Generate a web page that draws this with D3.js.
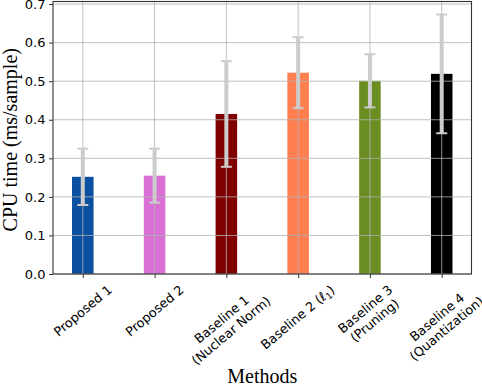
<!DOCTYPE html>
<html>
<head>
<meta charset="utf-8">
<script src="https://cdn.jsdelivr.net/npm/d3@7"></script>
<style>
  html, body { margin: 0; padding: 0; background: #fff; }
  svg { display: block; }
</style>
</head>
<body>
<svg id="chart" width="482" height="386"></svg>
<script>
// ---- data ----
const categories = ["Proposed 1", "Proposed 2", "Baseline 1\n(Nuclear Norm)", "Baseline 2 (ℓ1)", "Baseline 3\n(Pruning)", "Baseline 4\n(Quantization)"];
const means = [0.252, 0.255, 0.415, 0.522, 0.501, 0.519];
const errors = [0.073, 0.070, 0.137, 0.092, 0.069, 0.154];
const colors = ["#0b4fa0", "#da70d6", "#800000", "#ff7f50", "#6b8e23", "#000000"];
const yTicks = [0.0, 0.1, 0.2, 0.3, 0.4, 0.5, 0.6, 0.7];

// ---- layout ----
const svg = d3.select("#chart");
const L = 53, R = 471.5, T = 1.5, B = 274;
const n = categories.length;
const barW = 0.3;
const pad = (n - 1 + barW) * 0.05;
const x = d3.scaleLinear().domain([-barW / 2 - pad, n - 1 + barW / 2 + pad]).range([L, R]);
const yMax = d3.max(means.map((m, i) => m + errors[i])) * 1.05;
const y = d3.scaleLinear().domain([0, yMax]).range([B, T]);

// bars
svg.append("g").selectAll("rect").data(means).join("rect")
  .attr("x", (d, i) => x(i - barW / 2))
  .attr("width", (d, i) => x(i + barW / 2) - x(i - barW / 2))
  .attr("y", d => y(d))
  .attr("height", d => B - y(d))
  .attr("fill", (d, i) => colors[i]);

// grid (drawn above bars)
const grid = svg.append("g").attr("stroke", "#b0b0b0").attr("stroke-opacity", 0.8).attr("stroke-width", 1);
yTicks.forEach(t => {
  grid.append("line").attr("x1", L).attr("x2", R).attr("y1", y(t)).attr("y2", y(t));
});
d3.range(n).forEach(i => {
  grid.append("line").attr("x1", x(i)).attr("x2", x(i)).attr("y1", T).attr("y2", B);
});

// error bars
const eg = svg.append("g").attr("stroke", "#cccccc");
means.forEach((m, i) => {
  const cx = x(i);
  eg.append("line").attr("x1", cx).attr("x2", cx)
    .attr("y1", y(m - errors[i])).attr("y2", y(m + errors[i])).attr("stroke-width", 4);
  [m - errors[i], m + errors[i]].forEach(v => {
    eg.append("line").attr("x1", cx - 5.5).attr("x2", cx + 5.5)
      .attr("y1", y(v)).attr("y2", y(v)).attr("stroke-width", 2);
  });
});

// spines
svg.append("rect").attr("x", L).attr("y", T).attr("width", R - L).attr("height", B - T)
  .attr("fill", "none").attr("stroke", "#333").attr("stroke-width", 1.1);

// y axis
const yAxis = d3.axisLeft(y).tickValues(yTicks).tickFormat(d3.format(".1f")).tickSize(4).tickPadding(3.5);
const ya = svg.append("g").attr("transform", `translate(${L},0)`).call(yAxis);
ya.select(".domain").remove();
ya.selectAll("line").attr("stroke", "#333");
ya.selectAll("text").attr("font-family", "DejaVu Sans").attr("font-size", 13).attr("fill", "#000");

// x axis ticks
const xAxis = d3.axisBottom(x).tickValues(d3.range(n)).tickFormat("").tickSize(4);
const xa = svg.append("g").attr("transform", `translate(0,${B})`).call(xAxis);
xa.select(".domain").remove();
xa.selectAll("line").attr("stroke", "#333");

// x tick labels rotated 40deg, bbox centered at tick
const ang = 40 * Math.PI / 180;
categories.forEach((c, i) => {
  const g = svg.append("g");
  const t = g.append("text").attr("font-family", "DejaVu Sans").attr("font-size", 12.8)
    .attr("text-anchor", "middle").attr("fill", "#000");
  const lines = c.split("\n");
  lines.forEach((ln, k) => {
    const ts = t.append("tspan").attr("x", 0).attr("dy", k === 0 ? 0 : "1.15em");
    const m = ln.match(/^(.*)\(ℓ1\)$/);
    if (m) {
      ts.text(m[1] + "(");
      t.append("tspan").attr("font-style", "italic").text("ℓ");
      t.append("tspan").attr("font-size", 9).attr("dy", 2.5).text("1");
      t.append("tspan").attr("dy", -2.5).text(")");
    } else {
      ts.text(ln);
    }
  });
  const bb = t.node().getBBox();
  const cx = bb.x + bb.width / 2, cy = bb.y + bb.height / 2;
  const H = bb.width * Math.sin(ang) + bb.height * Math.cos(ang);
  const top = B + 4 + 4;
  g.attr("transform", `translate(${x(i)},${top + H / 2}) rotate(-40) translate(${-cx},${-cy})`);
});

// axis labels
svg.append("text").attr("x", (L + R) / 2).attr("y", 383)
  .attr("text-anchor", "middle").attr("font-family", "Liberation Serif").attr("font-size", 20)
  .text("Methods");
svg.append("text").attr("transform", `translate(17,${(T + B) / 2 + 2}) rotate(-90)`)
  .attr("text-anchor", "middle").attr("font-family", "Liberation Serif").attr("font-size", 20)
  .text("CPU time (ms/sample)");
</script>
</body>
</html>
